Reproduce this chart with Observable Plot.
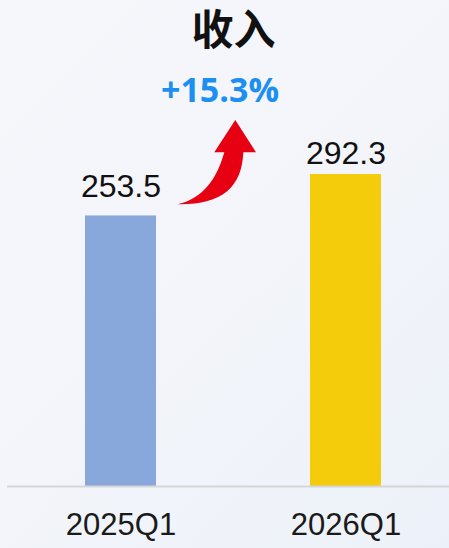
<!DOCTYPE html>
<html>
<head>
<meta charset="utf-8">
<script src="https://cdn.jsdelivr.net/npm/d3@7"></script>
<script src="https://cdn.jsdelivr.net/npm/@observablehq/plot@0.6"></script>
<style>
  html, body { margin: 0; padding: 0; }
  body { width: 449px; height: 548px; overflow: hidden;
         background: linear-gradient(135deg, #f6f7fb 0%, #f3f5fa 50%, #ecf1f9 100%); }
  #chart svg { display: block; }
</style>
</head>
<body>
<div id="chart"></div>
<script>
const categories = ["2025Q1", "2026Q1"];
const values = [253.5, 292.3];
const valueLabels = ["253.5", "292.3"];
const growthLabel = "+15.3%";
const titleText = "收入";
const barColors = ["#88a8dc", "#f4cc0c"];

const data = categories.map((c, i) => ({cat: c, value: values[i], label: valueLabels[i], color: barColors[i]}));

function growthArrow(index, scales) {
  const bw = scales.x.bandwidth ? scales.x.bandwidth() : 71;
  const ox = scales.x(categories[0]) + bw;   // right edge of first bar
  const oy = scales.y(values[0]);            // top of first bar
  const p = (dx, dy) => `${ox + dx},${oy + dy}`;
  const d = `M${p(21.7, -11.1)} C${p(41, -15.4)} ${p(59, -29.4)} ${p(68.3, -63.1)}` +
            ` L${p(58.3, -63.1)} L${p(79.3, -95.4)} L${p(100, -63.1)} L${p(87.3, -63.1)}` +
            ` C${p(86, -27.4)} ${p(65, -10.4)} ${p(21.7, -11.1)} Z`;
  return d3.create("svg:path").attr("d", d).attr("fill", "#e60012").node();
}

const chart = Plot.plot({
  width: 449,
  height: 548,
  marginLeft: 7,
  marginRight: 0,
  marginTop: 20,
  marginBottom: 62,
  style: {background: "transparent", fontFamily: "'Liberation Sans', Arial, sans-serif", overflow: "visible"},
  x: {domain: categories, paddingInner: 0.68584, paddingOuter: 0.32082, align: 0.531, label: null},
  y: {domain: [0, 436.6], axis: null},
  marks: [
    Plot.barY(data, {x: "cat", y: "value", fill: "color"}),
    Plot.ruleY([0], {stroke: "#d6d6d6", strokeWidth: 2}),
    Plot.axisX({tickSize: 0, tickPadding: 26, fontSize: 31, fill: "#1a1a1a", label: null}),
    Plot.text(data, {filter: d => d.cat === categories[0], x: "cat", y: "value", text: "label",
      lineAnchor: "bottom", dy: -18.5, fontSize: 32, fill: "#111"}),
    Plot.text(data, {filter: d => d.cat === categories[1], x: "cat", y: "value", text: "label",
      lineAnchor: "bottom", dy: -11, fontSize: 32, fill: "#111"}),
    growthArrow,
    Plot.text([titleText], {text: d => d, frameAnchor: "top", dx: 5, dy: 11, lineAnchor: "middle",
      fontSize: 42, fontWeight: "bold", fill: "#111", fontFamily: "'Noto Sans CJK SC', sans-serif"}),
    Plot.text([growthLabel], {text: d => d, frameAnchor: "top", dx: -8.5, dy: 71, lineAnchor: "middle",
      fontSize: 34, fontWeight: "bold", fill: "#1d8ff0", fontFamily: "'Open Sans', sans-serif"})
  ]
});
document.getElementById("chart").appendChild(chart);
</script>
</body>
</html>
